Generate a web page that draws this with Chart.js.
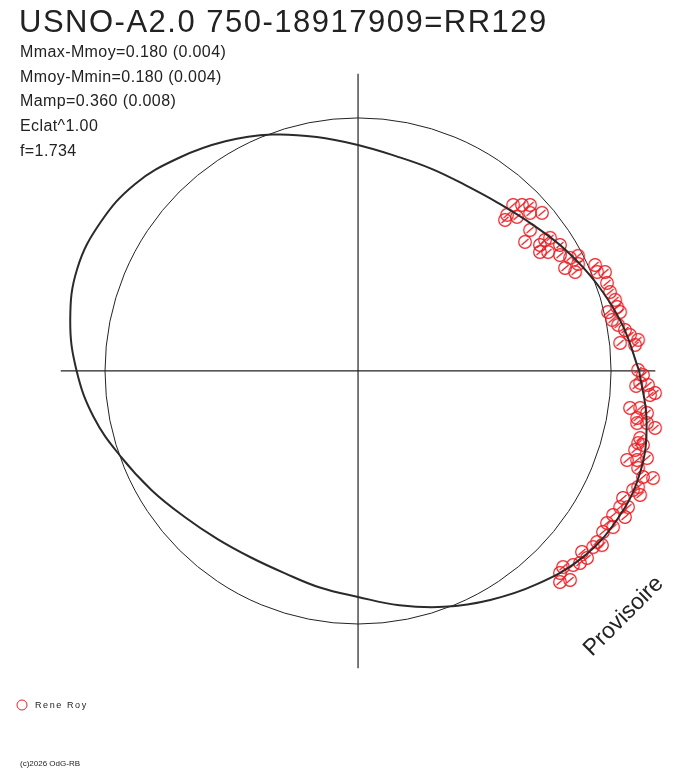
<!DOCTYPE html>
<html>
<head>
<meta charset="utf-8">
<script src="https://cdn.jsdelivr.net/npm/chart.js@4/dist/chart.umd.min.js"></script>
<style>
  html, body { margin: 0; padding: 0; background: #fff; }
  #polarChart { display: block; }
</style>
</head>
<body>
<canvas id="polarChart" width="688" height="768"></canvas>
<script>
// Phase curve (angle in degrees, radius relative to the reference circle)
const curvePhaseDeg = [0, 10, 20, 30, 40, 50, 60, 70, 80, 90, 100, 110, 120, 130, 140, 150, 160, 170,
    180, 190, 200, 210, 220, 230, 240, 250, 260, 270, 280, 290, 300, 310, 320, 330, 340, 350];
const curveRadius = [1.111, 1.060, 1.005, 0.951, 0.900, 0.865, 0.848, 0.850, 0.862, 0.893, 0.939, 0.994,
    1.048, 1.100, 1.150, 1.175, 1.181, 1.155, 1.112, 1.060, 0.996, 0.942, 0.896, 0.866, 0.850, 0.850,
    0.869, 0.893, 0.940, 0.992, 1.045, 1.100, 1.152, 1.180, 1.185, 1.158];

// Observations (Rene Roy)
const obsX = [0.613, 0.648, 0.680, 0.589, 0.628, 0.680, 0.727, 0.581, 0.680, 0.660, 0.739, 0.719, 0.759,
    0.719, 0.751, 0.798, 0.798, 0.838, 0.870, 0.870, 0.818, 0.858, 0.937, 0.945, 0.976, 0.984, 0.996,
    1.016, 1.024, 0.988, 1.036, 1.004, 1.028, 1.055, 1.075, 1.107, 1.036, 1.095, 1.107, 1.126, 1.099,
    1.146, 1.174, 1.115, 1.154, 1.075, 1.115, 1.142, 1.103, 1.103, 1.142, 1.174, 1.115, 1.107, 1.126,
    1.095, 1.142, 1.063, 1.103, 1.107, 1.166, 1.126, 1.107, 1.087, 1.115, 1.047, 1.036, 1.067, 1.008,
    1.055, 0.984, 1.008, 0.968, 0.945, 0.929, 0.964, 0.885, 0.905, 0.877, 0.850, 0.810, 0.798, 0.838,
    0.798];
const obsY = [0.656, 0.656, 0.656, 0.617, 0.609, 0.625, 0.625, 0.597, 0.557, 0.510, 0.518, 0.498, 0.526,
    0.470, 0.470, 0.498, 0.458, 0.447, 0.455, 0.423, 0.407, 0.391, 0.419, 0.391, 0.391, 0.348, 0.312,
    0.281, 0.253, 0.233, 0.233, 0.202, 0.182, 0.162, 0.142, 0.123, 0.111, 0.103, 0.004, -0.016, -0.059,
    -0.055, -0.087, -0.047, -0.095, -0.146, -0.146, -0.166, -0.186, -0.206, -0.206, -0.225, -0.265,
    -0.285, -0.292, -0.312, -0.344, -0.352, -0.352, -0.383, -0.423, -0.419, -0.458, -0.470, -0.490,
    -0.502, -0.538, -0.538, -0.569, -0.577, -0.601, -0.617, -0.636, -0.676, -0.696, -0.688, -0.715,
    -0.739, -0.759, -0.767, -0.775, -0.798, -0.826, -0.834];

const titleText = 'USNO-A2.0 750-18917909=RR129';
const infoLines = ['Mmax-Mmoy=0.180 (0.004)', 'Mmoy-Mmin=0.180 (0.004)', 'Mamp=0.360 (0.008)', 'Eclat^1.00', 'f=1.734'];
const observerName = 'Rene Roy';
const stampText = 'Provisoire';
const copyrightText = '(c)2026 OdG-RB';

const refRadius = 1;      // reference circle
const axisReach = 1.175;  // half length of the cross hairs

const red = 'rgb(236, 30, 36)';
const ink = '#222';

// curve points from the polar readings, closed back onto the first one
const curvePoints = curvePhaseDeg.map((deg, i) => {
    const a = deg * Math.PI / 180;
    return { x: curveRadius[i] * Math.cos(a), y: curveRadius[i] * Math.sin(a) };
});
curvePoints.push(curvePoints[0]);

const obsPoints = obsX.map((x, i) => ({ x: x, y: obsY[i] }));

// circle with a small slash, like the original markers
function makeMarker(color) {
    const c = document.createElement('canvas');
    c.width = 16;
    c.height = 16;
    const g = c.getContext('2d');
    g.strokeStyle = color;
    g.lineWidth = 1.2;
    g.beginPath();
    g.arc(8, 8, 6.3, 0, Math.PI * 2);
    g.stroke();
    g.beginPath();
    g.moveTo(4.5, 11);
    g.lineTo(11.5, 5);
    g.stroke();
    return c;
}
const marker = makeMarker(red);

const backdrop = {
    id: 'backdrop',
    beforeDatasetsDraw(chart) {
        const ctx = chart.ctx;
        const xs = chart.scales.x;
        const ys = chart.scales.y;
        const cx = xs.getPixelForValue(0);
        const cy = ys.getPixelForValue(0);
        const r = xs.getPixelForValue(refRadius) - cx;
        ctx.save();
        ctx.strokeStyle = ink;
        ctx.lineWidth = 1.2;
        ctx.beginPath();
        ctx.moveTo(xs.getPixelForValue(-axisReach), cy);
        ctx.lineTo(xs.getPixelForValue(axisReach), cy);
        ctx.moveTo(cx, ys.getPixelForValue(axisReach));
        ctx.lineTo(cx, ys.getPixelForValue(-axisReach));
        ctx.stroke();
        ctx.lineWidth = 1;
        ctx.beginPath();
        ctx.arc(cx, cy, r, 0, Math.PI * 2);
        ctx.stroke();
        ctx.restore();
    },
    afterDraw(chart) {
        const ctx = chart.ctx;
        ctx.save();
        ctx.fillStyle = ink;
        ctx.textBaseline = 'alphabetic';
        ctx.font = '31px "Liberation Sans", Arial, sans-serif';
        ctx.letterSpacing = '1.5px';
        ctx.fillText(titleText, 19, 32);
        ctx.font = '16px "Liberation Sans", Arial, sans-serif';
        ctx.letterSpacing = '0.4px';
        infoLines.forEach((t, i) => ctx.fillText(t, 20, 57 + i * 24.7));
        ctx.letterSpacing = '0px';

        // watermark
        ctx.save();
        ctx.translate(592, 657);
        ctx.rotate(-Math.PI / 4);
        ctx.font = '23px "Liberation Sans", Arial, sans-serif';
        ctx.fillText(stampText, 0, 0);
        ctx.restore();

        // legend
        ctx.strokeStyle = red;
        ctx.lineWidth = 1;
        ctx.beginPath();
        ctx.arc(22, 705, 5, 0, Math.PI * 2);
        ctx.stroke();
        ctx.font = '9px "Liberation Sans", Arial, sans-serif';
        ctx.letterSpacing = '1.6px';
        ctx.fillText(observerName, 35, 708);
        ctx.letterSpacing = '0px';
        ctx.font = '8px "Liberation Sans", Arial, sans-serif';
        ctx.fillText(copyrightText, 20, 766);
        ctx.restore();
    }
};

const ctx = document.getElementById('polarChart').getContext('2d');
const polarChart = new Chart(ctx, {
    type: 'scatter',
    data: {
        datasets: [{
            label: 'Courbe',
            data: curvePoints,
            showLine: true,
            borderColor: '#2a2a2a',
            borderWidth: 2,
            pointRadius: 0,
            tension: 0.4,
            order: 0
        },
        {
            label: observerName,
            data: obsPoints,
            pointStyle: marker,
            pointRadius: 7,
            order: 1
        }]
    },
    options: {
        responsive: false,
        animation: false,
        layout: { padding: 0, autoPadding: false },
        plugins: {
            legend: { display: false },
            tooltip: { enabled: false }
        },
        scales: {
            x: { type: 'linear', display: false, min: -1.415, max: 1.304 },
            y: { type: 'linear', display: false, min: -1.569, max: 1.466 }
        }
    },
    plugins: [backdrop]
});
</script>
</body>
</html>
